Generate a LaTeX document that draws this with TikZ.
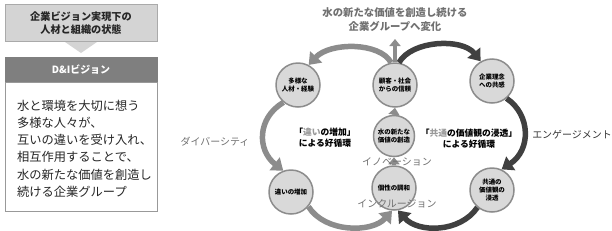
\documentclass[tikz,border=0pt]{standalone}
\usepackage{fontspec}
\setmainfont{Noto Sans CJK JP}
\usetikzlibrary{arrows.meta}
\definecolor{clight}{HTML}{D9D9D9}
\definecolor{cbox}{HTML}{D4D4D4}
\definecolor{cgray}{HTML}{8C8C8C}
\definecolor{cdark}{HTML}{404040}
\definecolor{ctext}{HTML}{707070}
\definecolor{chdr}{HTML}{7F7F7F}
\begin{document}
\begin{tikzpicture}[x=1bp,y=-1bp,
  topbox/.style={draw=cbox!80!black, fill=cbox, minimum width=152bp, minimum height=37bp, align=center, inner sep=0pt, font=\bfseries\fontsize{10.2}{13}\selectfont, text=black!85},
  hdrbox/.style={draw=chdr, fill=chdr, minimum width=152bp, minimum height=25bp, inner sep=0pt, font=\bfseries\fontsize{10}{12}\selectfont, text=white},
  bodybox/.style={draw=black!40, fill=white, minimum width=152bp, minimum height=129bp, inner sep=0pt},
  bodytext/.style={align=left, inner sep=0pt, font=\fontsize{12.3}{17.2}\selectfont, text=black!85},
  circ/.style={circle, draw=cgray, line width=1.5bp, fill=clight, minimum size=44bp, inner sep=0pt, align=center, font=\bfseries\fontsize{6.5}{8.2}\selectfont},
  bigL/.style={draw=cgray, line width=5.5bp, -{Triangle[length=11bp,width=16bp]}},
  bigR/.style={draw=cdark, line width=5.5bp, -{Triangle[length=11bp,width=16bp]}},
  upar/.style={draw=cgray, line width=4bp, -{Triangle[length=7bp,width=11bp]}},
  graylab/.style={inner sep=0pt, text=ctext, font=\fontsize{10}{11}\selectfont},
  looplab/.style={inner sep=0pt, align=center, font=\bfseries\fontsize{8.8}{11.5}\selectfont},
  titlelab/.style={inner sep=0pt, align=center, text=ctext, font=\bfseries\fontsize{10.4}{14}\selectfont}
]
\useasboundingbox (0,0) rectangle (612,230);
% left panel
\node[topbox] (top) at (81,23) {企業ビジョン実現下の\\人材と組織の状態};
\fill[cbox] (65,42) -- (97,42) -- (81,53) -- cycle;
\node[hdrbox] (hdr) at (81,69.5) {D\&Iビジョン};
\node[bodybox, anchor=north] (body) at (hdr.south) {};
\node[bodytext, anchor=north west] (btext) at (17,100) {水と環境を大切に想う\\多様な人々が、\\互いの違いを受け入れ、\\相互作用することで、\\水の新たな価値を創造し\\続ける企業グループ};
% title
\node[titlelab] (title) at (395,20) {水の新たな価値を創造し続ける\\企業グループへ変化};
\coordinate (uptip) at (395,39);
% circles
\node[circ] (cT) at (395,85) {顧客・社会\\からの信頼};
\node[circ] (cL) at (298,85) {多様な\\人材・経験};
\node[circ] (cR) at (492,81) {企業理念\\への共感};
\node[circ, minimum size=41bp] (cM) at (394,136) {水の新たな\\価値の創造};
\node[circ] (cB) at (394,188) {個性の調和};
\node[circ] (cBL) at (291,192) {違いの増加};
\node[circ] (cBR) at (492,190) {共通の\\価値観の\\浸透};
% left loop
\draw[bigL] (cT.100) .. controls (380,42) and (330,42) .. (cL.62);
\draw[bigL] (cL.230) .. controls (257,118) and (257,150) .. (cBL.110);
\draw[bigL] (cBL.-40) .. controls (325,233) and (372,233) .. (cB.-95);
% right loop
\draw[bigR] (cT.80) .. controls (412,40) and (462,38) .. (cR.120);
\draw[bigR] (cR.-50) .. controls (531,115) and (531,150) .. (cBR.65);
\draw[bigR] (cBR.-130) .. controls (460,233) and (418,233) .. (cB.-80);
% middle arrows
\draw[upar] (cB.north) -- (cM.south);
\draw[upar] (cM.north) -- (cT.south);
\draw[upar] (cT.north) -- (uptip);
% labels
\node[graylab] (inno) at (397,162) {イノベーション};
\node[graylab] (incl) at (397,204) {インクルージョン};
\node[graylab] (div) at (215,142) {ダイバーシティ};
\node[graylab, text=black!80] (eng) at (572,135) {エンゲージメント};
\node[looplab] (loopL) at (325,137.5) {「\textcolor{black!40}{違い}の増加」\\による好循環};
\node[looplab] (loopR) at (469,138.5) {「\textcolor{black!40}{共通}の価値観の浸透」\\による好循環};
\end{tikzpicture}
\end{document}
